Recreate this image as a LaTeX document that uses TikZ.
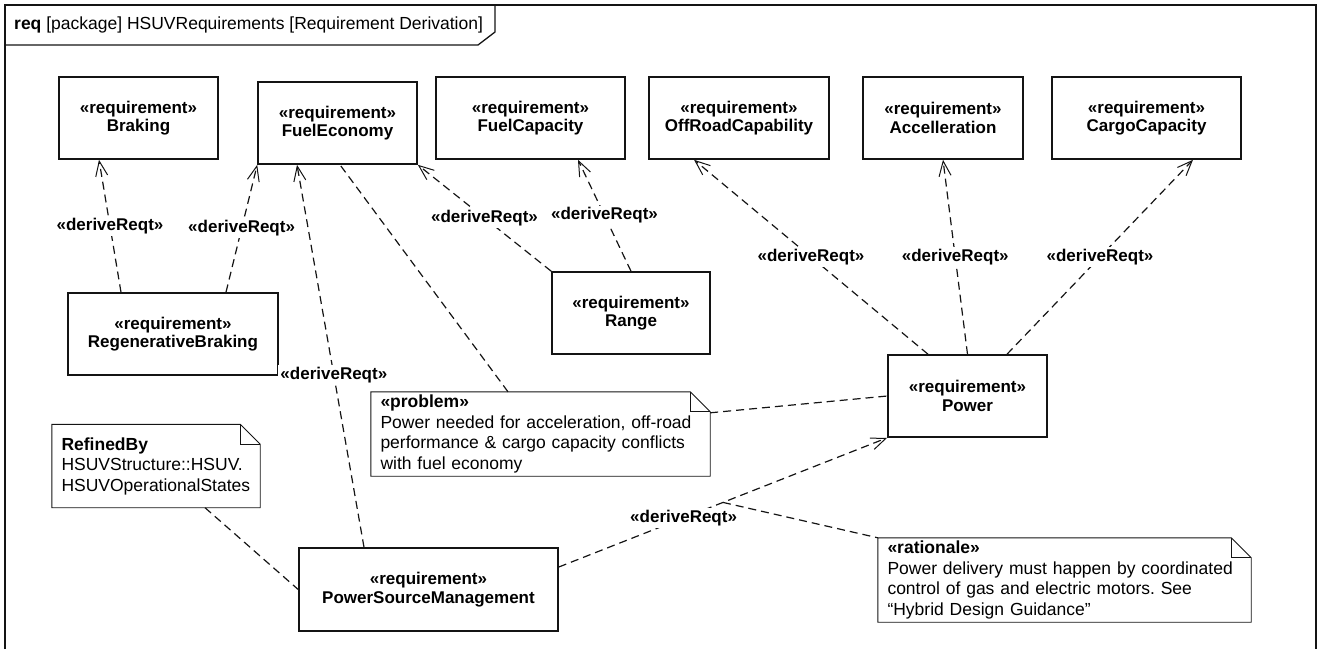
\documentclass[tikz,border=0pt]{standalone}
\usepackage{fontspec}
\setmainfont{Liberation Sans}
\usetikzlibrary{arrows.meta,positioning,calc}
\definecolor{ink}{RGB}{20,20,20}
\frenchspacing
\tikzset{
  frame/.style={draw=ink,line width=1.3pt},
  req/.style={draw=ink,line width=1.6pt,inner sep=0pt,align=center,
    font=\fontsize{17}{18.5}\selectfont\bfseries,minimum height=82pt},
  note/.style={inner xsep=9.5pt,inner ysep=0pt,align=left,
    font=\fontsize{17.5}{20.5}\selectfont,minimum height=83pt},
  noteline/.style={draw=ink,line width=0.9pt},
  tie/.style={draw=ink,line width=1.2pt,dash pattern=on 8pt off 5pt},
  dep/.style={tie,-{Straight Barb[length=15pt,width=12pt,line width=1pt]}},
  tag/.style={fill=white,inner sep=2pt,font=\fontsize{17}{19}\selectfont\bfseries},
}
\newcommand{\dogear}[1]{%
  \draw[noteline] (#1.south west) -- (#1.north west) -- ([xshift=-20pt]#1.north east)
    -- ([yshift=-20pt]#1.north east) -- (#1.south east) -- cycle;
  \draw[noteline] ([xshift=-20pt]#1.north east) |- ([yshift=-20pt]#1.north east);}

\begin{document}
\begin{tikzpicture}[x=1pt,y=-1pt,font=\fontsize{17}{19}\selectfont]
  \useasboundingbox (0,0) rectangle (1319,649);
  % frame and name tab
  \draw[frame] (5,649) -- (5,5) -- (1316,5) -- (1316,649);
  \draw[frame] (5,45) -- (478,45) -- (495,32) -- (495,5);
  \node[anchor=west,inner sep=0pt,font=\fontsize{17.5}{19}\selectfont] (title) at (14,25)
    {\textbf{req} [package] HSUVRequirements [Requirement Derivation]};

  % requirements
  \node[req,minimum width=159pt] (braking)  at (138.5,118) {«requirement»\\Braking};
  \node[req,minimum width=159pt] (fueleco)  at (337.5,123) {«requirement»\\FuelEconomy};
  \node[req,minimum width=189pt] (fuelcap)  at (530.5,118) {«requirement»\\FuelCapacity};
  \node[req,minimum width=180pt] (offroad)  at (739,118)   {«requirement»\\OffRoadCapability};
  \node[req,minimum width=160pt] (accel)    at (943,118)   {«requirement»\\Accelleration};
  \node[req,minimum width=189pt] (cargo)    at (1146.5,118) {«requirement»\\CargoCapacity};
  \node[req,minimum width=210pt] (regen)    at (173,334)   {«requirement»\\RegenerativeBraking};
  \node[req,minimum width=158pt] (range)    at (631,313)   {«requirement»\\Range};
  \node[req,minimum width=159pt] (power)    at (967.5,396) {«requirement»\\Power};
  \node[req,minimum width=259pt,minimum height=83pt] (psm) at (428.5,589.5)
    {«requirement»\\PowerSourceManagement};

  % notes
  \node[note,text width=189pt] (refined) at (156,466)
    {\textbf{RefinedBy}\\HSUVStructure::HSUV.\\HSUVOperationalStates};
  \node[note,text width=320pt,minimum height=84pt] (problem) at (540.5,434)
    {\textbf{«problem»}\\Power needed for acceleration, off-road\\
     performance \& cargo capacity conflicts\\with fuel economy};
  \node[note,text width=354pt,minimum height=84pt] (rationale) at (1064.5,580)
    {\textbf{«rationale»}\\Power delivery must happen by coordinated\\
     control of gas and electric motors. See\\“Hybrid Design Guidance”};
  \dogear{refined}
  \dogear{problem}
  \dogear{rationale}

  % derivations
  \draw[dep] ([xshift=-52pt]regen.north) -- node[tag]{«deriveReqt»} ([xshift=-39.5pt]braking.south);
  \draw[dep] ([xshift=53pt]regen.north) -- node[tag]{«deriveReqt»} (fueleco.south west);
  \draw[dep] ([xshift=-64.5pt]psm.north) -- node[tag,pos=0.45]{«deriveReqt»} ([xshift=-40.5pt]fueleco.south);
  \draw[dep] (range.north west) -- node[tag]{«deriveReqt»} (fueleco.south east);
  \draw[dep] (range.north) -- node[tag]{«deriveReqt»} ([xshift=47.5pt]fuelcap.south);
  \draw[dep] ([xshift=-39.5pt]power.north) -- node[tag]{«deriveReqt»} ([xshift=-45pt]offroad.south);
  \draw[dep] (power.north) -- node[tag]{«deriveReqt»} (accel.south);
  \draw[dep] ([xshift=39.5pt]power.north) -- node[tag]{«deriveReqt»} ([xshift=46.5pt]cargo.south);
  \draw[dep] ([yshift=22.5pt]psm.east) -- node[tag,pos=0.38]{«deriveReqt»}
    coordinate[pos=0.5] (tiept) (power.south west);

  % note anchors
  \draw[tie] ([xshift=-32.5pt]problem.north) -- ([xshift=2.5pt]fueleco.south);
  \draw[tie] ([yshift=-21pt]problem.north east) -- (power.west);
  \draw[tie] (tiept) -- (rationale.north west);
  \draw[tie] ([xshift=49pt]refined.south) -- (psm.west);
\end{tikzpicture}
\end{document}
